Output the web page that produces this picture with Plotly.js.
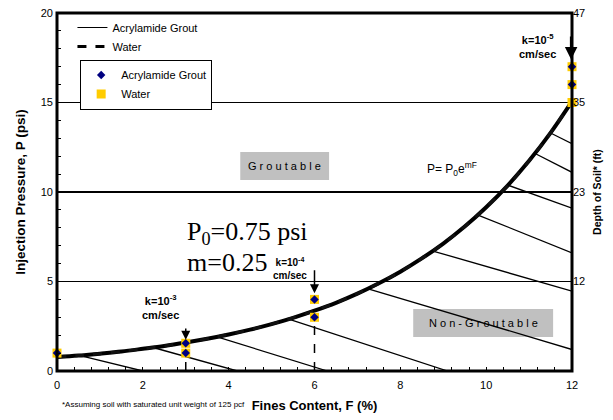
<!DOCTYPE html>
<html>
<head>
<meta charset="utf-8">
<script src="https://cdn.plot.ly/plotly-3.0.1.min.js"></script>
<style>html,body{margin:0;padding:0;background:#fff;}#chart{width:613px;height:420px;}</style>
</head>
<body>
<div id="chart"></div>
<script>
// ---- data ----
const curveF = [0, 0.5, 1, 1.5, 2, 2.5, 3, 3.5, 4, 4.5, 5, 5.5, 6, 6.5, 7, 7.5, 8, 8.5, 9, 9.5, 10, 10.5, 11, 11.5, 12];
const curveP = [0.78, 0.86, 0.97, 1.09, 1.24, 1.40, 1.59, 1.80, 2.04, 2.31, 2.62, 2.97, 3.37, 3.81, 4.32, 4.90, 5.55, 6.29, 7.12, 8.07, 9.15, 10.36, 11.74, 13.30, 15.06];

const groutF = [0, 3, 3, 6, 6, 12, 12];
const groutP = [1.0, 1.0, 1.55, 3.0, 4.0, 16.0, 17.0];
const waterF = [0, 3, 3, 6, 6, 12, 12, 12];
const waterP = [1.0, 1.0, 1.55, 3.0, 4.0, 15.0, 16.0, 17.0];

const dropF = [3, 6];
const dropP = [1.0, 3.0];

// hatch lines: start on the curve at hatchStartF, end at (hatchEndF, hatchEndP)
const hatchStartF = [0.54, 2.24, 3.73, 5.4, 7.25, 8.76, 9.81, 10.51, 11.14, 11.5];
const hatchEndF   = [2.0, 4.2, 6.3, 9.1, 12, 12, 12, 12, 12, 12];
const hatchEndP   = [0, 0, 0, 0, 1.2, 4.46, 6.6, 9.1, 11.1, 12.7];
const P0 = 0.75, m = 0.25;

const xTicks = [0, 2, 4, 6, 8, 10, 12];
const yTicks = [0, 5, 10, 15, 20];
const depthTickP = [5, 10, 15, 20];
const depthTickText = ['12', '23', '35', '47'];

// ---- build ----
const hx = [], hy = [];
for (let i = 0; i < hatchStartF.length; i++) {
  hx.push(hatchStartF[i], hatchEndF[i], null);
  hy.push(P0 * Math.exp(m * hatchStartF[i]), hatchEndP[i], null);
}
const dx = [], dy = [];
for (let i = 0; i < dropF.length; i++) { dx.push(dropF[i], dropF[i], null); dy.push(0, dropP[i], null); }

const FONT = 'Liberation Sans, Arial, sans-serif';

const traces = [
  {x: hx, y: hy, mode: 'lines', line: {color: '#000', width: 1.3}, showlegend: false, hoverinfo: 'skip'},
  {x: curveF, y: curveP, mode: 'lines', line: {color: '#000', width: 4, shape: 'spline'}, showlegend: false},
  {x: curveF, y: curveP, mode: 'lines', line: {color: '#111', width: 3, dash: 'dash', shape: 'spline'}, showlegend: false},
  {x: dx, y: dy, mode: 'lines', line: {color: '#000', width: 1.5, dash: 'dash'}, showlegend: false, hoverinfo: 'skip'},
  {x: [null], y: [null], mode: 'lines', name: 'Acrylamide Grout', line: {color: '#000', width: 1}, legend: 'legend', legendrank: 1},
  {x: [null], y: [null], mode: 'lines', name: 'Water', line: {color: '#000', width: 3, dash: 'dash'}, legend: 'legend', legendrank: 2},
  {x: waterF, y: waterP, mode: 'markers', name: 'Water', marker: {symbol: 'square', size: 9, color: '#FFCC00'}, cliponaxis: false, legend: 'legend2', legendrank: 2},
  {x: groutF, y: groutP, mode: 'markers', name: 'Acrylamide Grout', marker: {symbol: 'diamond', size: 6.5, color: '#000080'}, cliponaxis: false, legend: 'legend2', legendrank: 1},
  {x: [null], y: [null], yaxis: 'y2', showlegend: false, mode: 'markers'}
];

const annotations = [
  {x: 11.98, y: 17.4, ax: 11.98, ay: 19.1, xref: 'x', yref: 'y', axref: 'x', ayref: 'y', text: ' ', showarrow: true, arrowhead: 2, arrowsize: 1, arrowwidth: 2.5, arrowcolor: '#000'},
  {x: 6, y: 4.35, ax: 6, ay: 6.05, xref: 'x', yref: 'y', axref: 'x', ayref: 'y', text: ' ', showarrow: true, arrowhead: 2, arrowsize: 1.2, arrowwidth: 1.5, arrowcolor: '#000'},
  {x: 3, y: 1.75, ax: 3, ay: 2.8, xref: 'x', yref: 'y', axref: 'x', ayref: 'y', text: ' ', showarrow: true, arrowhead: 2, arrowsize: 1.2, arrowwidth: 1.5, arrowcolor: '#000'},
  {x: 11.19, y: 18.15, xref: 'x', yref: 'y', text: '<b>k=10<sup>-5</sup></b><br><b>cm/sec</b>', showarrow: false, font: {family: FONT, size: 11, color: '#000'}},
  {x: 5.43, y: 5.75, xref: 'x', yref: 'y', text: '<b>k=10<sup>-4</sup></b><br><b>cm/sec</b>', showarrow: false, font: {family: FONT, size: 10, color: '#000'}},
  {x: 2.4, y: 3.6, xref: 'x', yref: 'y', text: '<b>k=10<sup>-3</sup></b><br><b>cm/sec</b>', showarrow: false, font: {family: FONT, size: 11, color: '#000'}},
  {x: 2.98, y: 7.7, xref: 'x', yref: 'y', xanchor: 'left', text: 'P<sub>0</sub>=0.75 psi', showarrow: false, font: {family: 'Liberation Serif, Times New Roman, serif', size: 26, color: '#000'}},
  {x: 2.98, y: 6.05, xref: 'x', yref: 'y', xanchor: 'left', text: 'm=0.25', showarrow: false, font: {family: 'Liberation Serif, Times New Roman, serif', size: 26, color: '#000'}},
  {x: 9.2, y: 11.3, xref: 'x', yref: 'y', text: 'P= P<sub>0</sub>e<sup>mF</sup>', showarrow: false, font: {family: FONT, size: 12, color: '#000'}},
  {x: 5.3, y: 11.45, xref: 'x', yref: 'y', text: 'G r o u t a b l e', showarrow: false, font: {family: FONT, size: 11, color: '#000'}},
  {x: 9.93, y: 2.68, xref: 'x', yref: 'y', text: 'N o n - G r o u t a b l e', showarrow: false, font: {family: FONT, size: 11, color: '#000'}},
  {x: 0.005, y: -0.093, xref: 'paper', yref: 'paper', xanchor: 'left', yanchor: 'middle', text: '*Assuming soil with saturated unit weight of 125 pcf', showarrow: false, font: {family: FONT, size: 8, color: '#000'}}
];

const shapes = [
  {type: 'rect', xref: 'x', yref: 'y', x0: 4.27, x1: 6.34, y0: 10.67, y1: 12.23, fillcolor: '#C0C0C0', line: {width: 0}, layer: 'below'},
  {type: 'rect', xref: 'x', yref: 'y', x0: 8.3, x1: 11.56, y0: 1.9, y1: 3.46, fillcolor: '#C0C0C0', line: {width: 0}, layer: 'below'},
  {type: 'rect', xref: 'paper', yref: 'paper', x0: 0, x1: 1, y0: 0, y1: 1, line: {color: '#000', width: 3}, layer: 'above'}
];

const layout = {
  width: 613, height: 420,
  margin: {l: 57, r: 41, t: 13, b: 49, autoexpand: false},
  paper_bgcolor: '#fff', plot_bgcolor: '#fff',
  font: {family: FONT, size: 11, color: '#000'},
  xaxis: {
    range: [0, 12], tickvals: xTicks, ticks: 'inside', ticklen: 4, tickcolor: '#000',
    minor: {dtick: 0.4, tick0: 0, ticks: 'inside', ticklen: 4, tickcolor: '#000'},
    showgrid: false, zeroline: false, showline: false, ticklabelstandoff: 6,
    tickfont: {family: FONT, size: 11, color: '#000'},
    title: {text: '<b>Fines Content, F (%)</b>', font: {family: FONT, size: 13, color: '#000'}, standoff: 10}
  },
  yaxis: {
    range: [0, 20], tickvals: yTicks, ticks: '', ticklabelstandoff: 3,
    minor: {dtick: 1, tick0: 0, ticks: 'inside', ticklen: 4, tickcolor: '#000', showgrid: false},
    showgrid: true, gridcolor: '#000', gridwidth: 1.3, zeroline: false, showline: false,
    tickfont: {family: FONT, size: 11, color: '#000'},
    title: {text: '<b>Injection Pressure, P (psi)</b>', font: {family: FONT, size: 13.5, color: '#000'}, standoff: 12}
  },
  yaxis2: {
    overlaying: 'y', side: 'right', range: [0, 20], tickvals: depthTickP, ticktext: depthTickText,
    ticks: '', showgrid: false, zeroline: false, showline: false,
    tickfont: {family: FONT, size: 11, color: '#000'},
    title: {text: '<b>Depth of Soil* (ft)</b>', font: {family: FONT, size: 10.5, color: '#000'}, standoff: 9}
  },
  legend: {x: 0.03, y: 1.0, xanchor: 'left', yanchor: 'top', bgcolor: 'rgba(0,0,0,0)', borderwidth: 0, font: {family: FONT, size: 11, color: '#000'}, tracegroupgap: 0, itemwidth: 30},
  legend2: {x: 0.045, y: 0.87, xanchor: 'left', yanchor: 'top', bgcolor: '#fff', bordercolor: '#000', borderwidth: 1, font: {family: FONT, size: 11, color: '#000'}, tracegroupgap: 0, itemwidth: 30},
  showlegend: true,
  annotations: annotations,
  shapes: shapes
};

Plotly.newPlot('chart', traces, layout, {displayModeBar: false, staticPlot: true});
</script>
</body>
</html>
